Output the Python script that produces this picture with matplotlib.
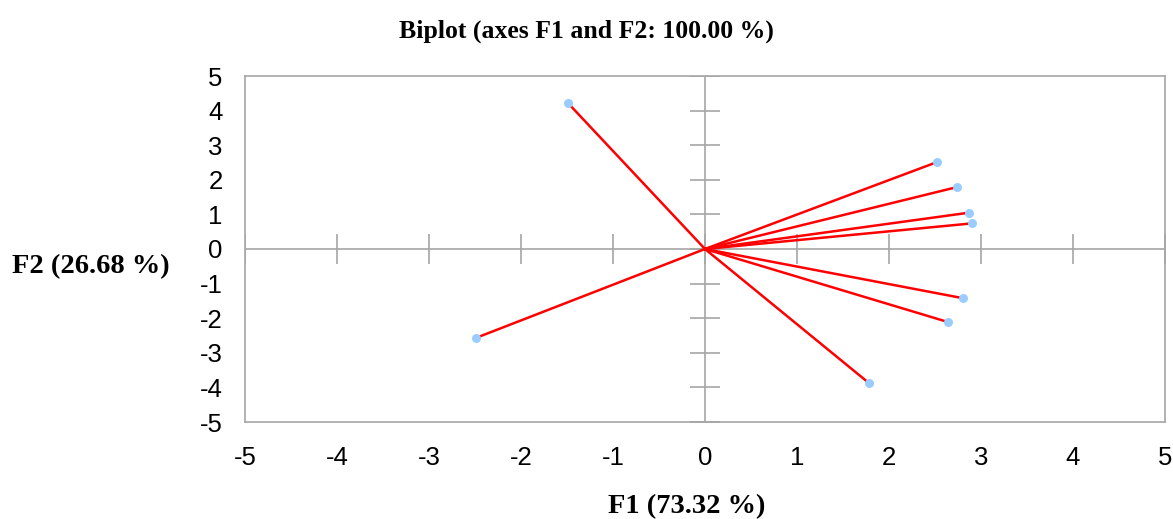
import matplotlib
matplotlib.use("Agg")
import matplotlib.pyplot as plt

plt.rcParams["axes.unicode_minus"] = False

# --- datos del biplot (coordenadas F1 / F2) ---
f1 = [-1.49, -2.49, 2.52, 2.74, 2.87, 2.90, 2.80, 2.64, 1.78]
f2 = [4.22, -2.57, 2.51, 1.79, 1.05, 0.74, -1.42, -2.11, -3.87]
ticks = [-5, -4, -3, -2, -1, 0, 1, 2, 3, 4, 5]

gris = "#a6a6a6"

fig = plt.figure(figsize=(11.73, 5.19), dpi=100)
ax = fig.add_axes([245 / 1173, 1 - 422 / 519, 920 / 1173, 346 / 519])

ax.set_xlim(-5, 5)
ax.set_ylim(-5, 5)
ax.set_xticks(ticks)
ax.set_yticks(ticks)
ax.tick_params(length=0, labelsize=18.5)
ax.tick_params(axis="x", pad=17)
ax.tick_params(axis="y", pad=16)
for lab in ax.get_xticklabels() + ax.get_yticklabels():
    lab.set_fontfamily("Liberation Sans")
for s in ax.spines.values():
    s.set_color(gris)
    s.set_linewidth(1.2)

# ejes centrales con marcas
ax.axhline(0, color=gris, lw=1.2, zorder=1)
ax.axvline(0, color=gris, lw=1.2, zorder=1)
ax.plot(ticks, [0] * len(ticks), ls="none", marker="|", ms=22, mew=1.2, color=gris, zorder=1)
ax.plot([0] * len(ticks), ticks, ls="none", marker="_", ms=22, mew=1.2, color=gris, zorder=1)

# vectores
for x, y in zip(f1, f2):
    ax.plot([0, x], [0, y], color="red", lw=1.8, zorder=2)
ax.scatter(f1, f2, s=42, color="#99ccff", zorder=3, linewidths=0)

fig.text(586 / 1173, 1 - 31 / 519, "Biplot (axes F1 and F2: 100.00 %)", ha="center", va="center",
         fontfamily="Liberation Serif", fontweight="bold", fontsize=18.5)
fig.text(91 / 1173, 1 - 267 / 519, "F2 (26.68 %)", ha="center", va="center",
         fontfamily="Liberation Serif", fontweight="bold", fontsize=20.5)
fig.text(687 / 1173, 1 - 507 / 519, "F1 (73.32 %)", ha="center", va="center",
         fontfamily="Liberation Serif", fontweight="bold", fontsize=20.5)

plt.savefig("out.png", dpi=100)
plt.close()
